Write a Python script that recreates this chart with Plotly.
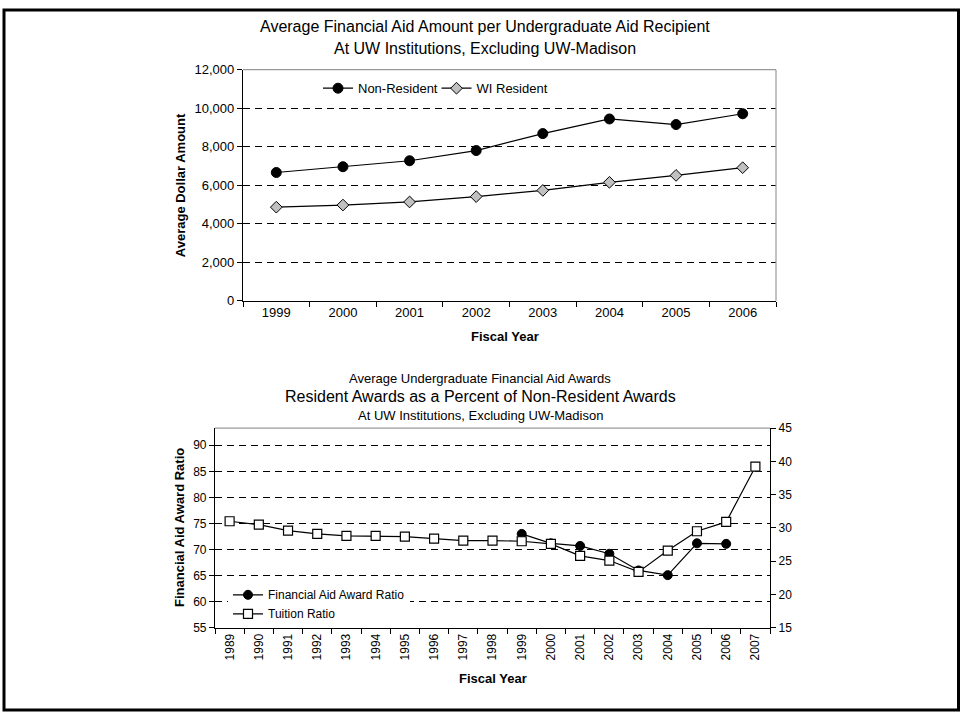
import plotly.graph_objects as go

# ---------- data ----------
years_top = ["1999", "2000", "2001", "2002", "2003", "2004", "2005", "2006"]
non_resident = [6660, 6960, 7270, 7800, 8680, 9440, 9150, 9710]
wi_resident = [4860, 4970, 5130, 5410, 5730, 6150, 6510, 6910]

years_bottom = [str(y) for y in range(1989, 2008)]
aid_ratio = [None] * 10 + [73.0, 71.2, 70.7, 69.2, 66.0, 65.1, 71.2, 71.1] + [None]
tuition_ratio = [31.0, 30.5, 29.6, 29.1, 28.8, 28.8, 28.7, 28.4, 28.1, 28.1,
                 28.0, 27.6, 25.8, 25.1, 23.4, 26.6, 29.5, 30.9, 39.2]

top_yticks = [0, 2000, 4000, 6000, 8000, 10000, 12000]
left_ticks = [55, 60, 65, 70, 75, 80, 85, 90]
right_ticks = [15, 20, 25, 30, 35, 40, 45]

# ---------- geometry helpers ----------
W, H = 961, 721
FONT = "Liberation Sans, Arial, sans-serif"


def px(x):
    return x / W


def py(y):
    return 1 - y / H


fig = go.Figure()

fig.add_trace(go.Scatter(
    x=years_top, y=non_resident, name="Non-Resident", mode="lines+markers",
    line=dict(color="black", width=1.2),
    marker=dict(symbol="circle", size=10, color="black", line=dict(color="black", width=1)),
    xaxis="x", yaxis="y", legend="legend"))
fig.add_trace(go.Scatter(
    x=years_top, y=wi_resident, name="WI Resident", mode="lines+markers",
    line=dict(color="black", width=1.2),
    marker=dict(symbol="diamond", size=9, color="#c0c0c0", line=dict(color="black", width=1)),
    xaxis="x", yaxis="y", legend="legend3"))

fig.add_trace(go.Scatter(
    x=years_bottom, y=aid_ratio, name="Financial Aid Award Ratio", mode="lines+markers",
    line=dict(color="black", width=1.2),
    marker=dict(symbol="circle", size=9, color="black", line=dict(color="black", width=1)),
    xaxis="x2", yaxis="y2", legend="legend2"))
fig.add_trace(go.Scatter(
    x=years_bottom, y=tuition_ratio, name="Tuition Ratio", mode="lines+markers",
    line=dict(color="black", width=1.2),
    marker=dict(symbol="square", size=9, color="white", line=dict(color="black", width=1.2)),
    xaxis="x2", yaxis="y3", legend="legend2"))

top_tick_font = dict(family=FONT, size=13, color="black")
tick_font = dict(family=FONT, size=12, color="black")
grid_common = dict(gridcolor="black", gridwidth=1, griddash="7px,5px")

fig.update_layout(
    width=W, height=H,
    margin=dict(l=0, r=0, t=0, b=0),
    paper_bgcolor="white", plot_bgcolor="white",
    font=dict(family=FONT, color="black"),
    showlegend=True,
    xaxis=dict(
        domain=[px(243), px(776)], type="category", range=[-0.5, 7.5],
        tickson="boundaries", ticks="outside", ticklen=5, tickcolor="black",
        showline=True, linecolor="black", linewidth=1.2, showgrid=False,
        tickfont=top_tick_font, anchor="y", fixedrange=True),
    yaxis=dict(
        domain=[py(300), py(64)], range=[0, 12000], tickvals=top_yticks,
        tickformat=",", ticks="outside", ticklen=5, tickcolor="black",
        showline=True, linecolor="black", linewidth=1.2, zeroline=False,
        showgrid=True, **grid_common, tickfont=top_tick_font, anchor="x"),
    xaxis2=dict(
        domain=[px(215), px(770)], type="category", range=[-0.5, 18.5],
        tickson="boundaries", ticks="outside", ticklen=5, tickcolor="black",
        showline=True, linecolor="black", linewidth=1.2, showgrid=False,
        tickangle=-90, tickfont=tick_font, anchor="y2"),
    yaxis2=dict(
        domain=[py(634), py(430)], range=[55, 93.3], tickvals=left_ticks,
        ticks="outside", ticklen=5, tickcolor="black",
        showline=True, linecolor="black", linewidth=1.2, zeroline=False,
        showgrid=True, **grid_common, tickfont=tick_font, anchor="x2"),
    yaxis3=dict(
        overlaying="y2", side="right", range=[15, 45], tickvals=right_ticks,
        ticks="outside", ticklen=5, tickcolor="black",
        showline=True, linecolor="black", linewidth=1.2, zeroline=False,
        showgrid=False, tickfont=tick_font, anchor="x2"),
    legend=dict(
        orientation="h", x=px(318), y=py(83), xanchor="left", yanchor="middle",
        bgcolor="rgba(0,0,0,0)", font=dict(family=FONT, size=13, color="black"),
        itemclick=False, traceorder="normal"),
    legend3=dict(
        orientation="h", x=px(436.5), y=py(83), xanchor="left", yanchor="middle",
        bgcolor="rgba(0,0,0,0)", font=dict(family=FONT, size=13, color="black"),
        itemclick=False, traceorder="normal"),
    legend2=dict(
        orientation="v", x=px(228), y=py(610), xanchor="left", yanchor="middle",
        bgcolor="white", font=dict(family=FONT, size=12, color="black"),
        tracegroupgap=0, itemclick=False, traceorder="normal"),
)

# plot-area borders (gray) and page frame
fig.add_shape(type="line", xref="x domain", yref="y domain", x0=0, x1=1, y0=1, y1=1,
              line=dict(color="#999999", width=1.2), layer="above")
fig.add_shape(type="line", xref="x domain", yref="y domain", x0=1, x1=1, y0=0, y1=1,
              line=dict(color="#999999", width=1.2), layer="above")
fig.add_shape(type="line", xref="x2 domain", yref="y2 domain", x0=0, x1=1, y0=1, y1=1,
              line=dict(color="#999999", width=1.2), layer="above")
fig.add_shape(type="rect", xref="paper", yref="paper",
              x0=px(4), x1=px(958.5), y0=py(718), y1=py(3),
              line=dict(color="black", width=3), layer="above")


def note(text, x, y, size, bold=False, angle=0):
    if bold:
        text = "<b>" + text + "</b>"
    fig.add_annotation(text=text, x=px(x), y=py(y), xref="paper", yref="paper",
                       showarrow=False, xanchor="center", yanchor="middle",
                       textangle=angle, font=dict(family=FONT, size=size, color="black"))


note("Average Financial Aid Amount per Undergraduate Aid Recipient", 485, 20, 16)
note("At UW Institutions, Excluding UW-Madison", 485, 42, 16)
note("Average Dollar Amount", 180, 182, 13, bold=True, angle=-90)
note("Fiscal Year", 505, 337, 13, bold=True)

note("Average Undergraduate Financial Aid Awards", 480, 379, 13)
note("Resident Awards as a Percent of Non-Resident Awards", 480, 398, 16)
note("At UW Institutions, Excluding UW-Madison", 480, 417, 13)
note("Financial Aid Award Ratio", 180, 532, 13, bold=True, angle=-90)
note("Fiscal Year", 493, 686, 13, bold=True)

page_js = (
    "document.body.style.margin='0px';"
    "document.body.style.overflow='hidden';"
)

fig.write_html("out.html", config={"displayModeBar": False}, post_script=page_js)
